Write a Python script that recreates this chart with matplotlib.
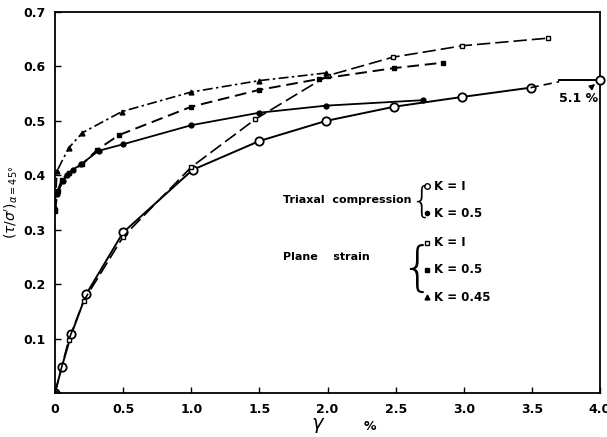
import numpy as np
import matplotlib
matplotlib.use("Agg")
import matplotlib.pyplot as plt

# Triaxial compression, K = 1 (open circles, solid)
tc_k1_x = [0.0, 0.05, 0.12, 0.23, 0.5, 1.01, 1.5, 1.99, 2.49, 2.99, 3.49]
tc_k1_y = [0.0, 0.048, 0.108, 0.182, 0.295, 0.41, 0.463, 0.50, 0.526, 0.544, 0.561]
# tail to the last point (5.1 % plotted at 4.0)
tc_tail_x = [3.49, 3.70]
tc_tail_y = [0.561, 0.572]
tc_end_x = [3.70, 4.0]
tc_end_y = [0.575, 0.575]

# Triaxial compression, K = 0.5 (dots, solid)
tc_k05_x = [0.015, 0.06, 0.09, 0.13, 0.19, 0.32, 0.5, 1.0, 1.5, 1.99, 2.7]
tc_k05_y = [0.366, 0.39, 0.40, 0.41, 0.42, 0.445, 0.457, 0.492, 0.515, 0.528, 0.538]

# Plane strain, K = 1 (open squares, dashed)
ps_k1_x = [0.0, 0.1, 0.21, 0.5, 1.0, 1.47, 2.0, 2.48, 2.99, 3.62]
ps_k1_y = [0.0, 0.097, 0.169, 0.287, 0.415, 0.503, 0.583, 0.617, 0.638, 0.652]

# Plane strain, K = 0.5 (filled squares, dashed)
ps_k05_x = [0.0, 0.02, 0.05, 0.1, 0.2, 0.31, 0.47, 1.0, 1.5, 1.94, 2.49, 2.85]
ps_k05_y = [0.335, 0.372, 0.392, 0.405, 0.42, 0.447, 0.474, 0.526, 0.557, 0.577, 0.597, 0.607]

# Plane strain, K = 0.45 (triangles, dashed)
ps_k045_x = [0.0, 0.015, 0.1, 0.2, 0.49, 1.0, 1.5, 1.99]
ps_k045_y = [0.342, 0.408, 0.45, 0.478, 0.517, 0.553, 0.574, 0.588]

x_ticks = [0, 0.5, 1.0, 1.5, 2.0, 2.5, 3.0, 3.5, 4.0]
x_tick_labels = ["0", "0.5", "1.0", "1.5", "2.0", "2.5", "3.0", "3.5", "4.0"]
y_ticks = [0.1, 0.2, 0.3, 0.4, 0.5, 0.6, 0.7]
y_tick_labels = ["0.1", "0.2", "0.3", "0.4", "0.5", "0.6", "0.7"]

fig = plt.figure(figsize=(6.07, 4.37), dpi=100)
ax = fig.add_axes([0.0906, 0.1007, 0.8979, 0.8718])

k = "black"
ax.plot(tc_k1_x, tc_k1_y, "-", color=k, lw=1.4, marker="o", ms=6, mfc="white", mec=k, mew=1.3)
ax.plot(tc_tail_x, tc_tail_y, "--", color=k, lw=1.2, dashes=(5, 3))
ax.plot(tc_end_x, tc_end_y, "-", color=k, lw=1.4)
ax.plot([4.0], [0.575], "o", ms=6, mfc="white", mec=k, mew=1.3, clip_on=False, zorder=5)
ax.plot(tc_k05_x, tc_k05_y, "-", color=k, lw=1.3, marker="o", ms=3.5, mfc=k, mec=k)
ax.plot(ps_k1_x, ps_k1_y, color=k, lw=1.2, dashes=(8, 3), marker="s", ms=3.5, mfc="white", mec=k)
ax.plot(ps_k05_x, ps_k05_y, color=k, lw=1.4, dashes=(6, 3), marker="s", ms=3.5, mfc=k, mec=k)
ax.plot(ps_k045_x, ps_k045_y, color=k, lw=1.2, dashes=(6, 2, 1.5, 2), marker="^", ms=3.5, mfc=k, mec=k)

ax.annotate("5.1 %", xy=(3.98, 0.571), xytext=(3.84, 0.542), ha="center", va="center",
            fontsize=9, fontweight="bold",
            arrowprops=dict(arrowstyle="-|>", color=k, lw=1.0, shrinkA=2, shrinkB=2,
                            mutation_scale=8))

# legend written as text
fs = 8.5
ax.text(1.67, 0.355, "Triaxal  compression", fontsize=8, fontweight="bold", va="center")
ax.text(2.605, 0.352, "{", fontsize=25, va="center", ha="left", fontweight="ultralight")
ax.plot([2.73], [0.38], "o", ms=4, mfc="white", mec=k, mew=1.0)
ax.text(2.78, 0.38, "K = I", fontsize=fs, fontweight="bold", va="center")
ax.plot([2.73], [0.33], "o", ms=3, mfc=k, mec=k)
ax.text(2.78, 0.33, "K = 0.5", fontsize=fs, fontweight="bold", va="center")

ax.text(1.67, 0.25, "Plane    strain", fontsize=8, fontweight="bold", va="center")
ax.text(2.53, 0.226, "{", fontsize=38, va="center", ha="left", fontweight="ultralight")
ax.plot([2.73], [0.276], "s", ms=3.5, mfc="white", mec=k)
ax.text(2.78, 0.276, "K = I", fontsize=fs, fontweight="bold", va="center")
ax.plot([2.73], [0.226], "s", ms=3.5, mfc=k, mec=k)
ax.text(2.78, 0.226, "K = 0.5", fontsize=fs, fontweight="bold", va="center")
ax.plot([2.73], [0.176], "^", ms=3.5, mfc=k, mec=k)
ax.text(2.78, 0.176, "K = 0.45", fontsize=fs, fontweight="bold", va="center")

ax.set_xlim(0, 4.0)
ax.set_ylim(0, 0.7)
ax.set_xticks(x_ticks)
ax.set_xticklabels(x_tick_labels, fontsize=9, fontweight="bold")
ax.set_yticks(y_ticks)
ax.set_yticklabels(y_tick_labels, fontsize=9, fontweight="bold")
ax.tick_params(direction="in", length=4, width=1, pad=7)
for s in ax.spines.values():
    s.set_linewidth(1.3)

ax.set_ylabel(r"$(\tau/\sigma')_{\alpha=45°}$", fontsize=10, labelpad=2)
ax.text(1.93, -0.06, r"$\gamma$", fontsize=14, ha="center", va="center", clip_on=False)
ax.text(2.31, -0.062, "%", fontsize=9, fontweight="bold", ha="center", va="center", clip_on=False)

fig.savefig("out.png", dpi=100)
